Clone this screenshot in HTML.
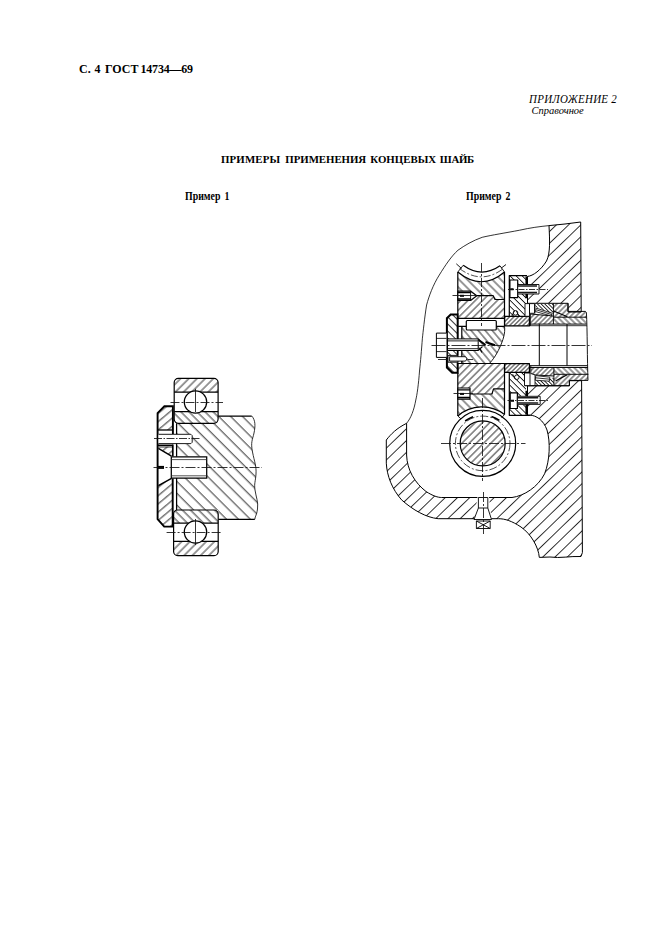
<!DOCTYPE html>
<html lang="ru"><head><meta charset="utf-8"><title>ГОСТ 14734—69</title>
<style>
html,body{margin:0;padding:0;background:#fff;}
body{width:661px;height:936px;position:relative;overflow:hidden;font-family:"Liberation Serif",serif;color:#000;}
.t{position:absolute;white-space:nowrap;line-height:1;}
#hdr{left:79.3px;top:62.4px;font-size:13.5px;font-weight:bold;transform:scaleX(.886);transform-origin:0 0;}
#hdr .a{margin-right:.95px;}#hdr .b{margin-right:1.85px;}#hdr .c{margin-right:-1px;}#hdr .d{letter-spacing:-.22px;}
#app{left:528.9px;top:93.8px;font-size:11.5px;font-style:italic;letter-spacing:.3px;transform:scaleX(.95);transform-origin:0 0;}
#ref{left:531.5px;top:105.5px;font-size:10.5px;font-style:italic;}
#ttl{left:221px;top:154px;font-size:11px;font-weight:bold;word-spacing:1.5px;transform:scaleX(.985);transform-origin:0 0;}
#ttl .a{letter-spacing:.15px;margin-right:.95px;}#ttl .b{letter-spacing:-.05px;}#ttl .c{margin-right:-.5px;}#ttl .d{letter-spacing:-.3px;}
#p1{left:184.9px;top:191px;font-size:11.5px;font-weight:bold;transform:scaleX(.856);transform-origin:0 0;word-spacing:2px;}
#p2{left:465.9px;top:191px;font-size:11.5px;font-weight:bold;transform:scaleX(.856);transform-origin:0 0;word-spacing:2px;}
svg{position:absolute;left:0;top:0;}
</style></head><body>
<div class="t" id="hdr"><span class="a">С.</span> <span class="b">4</span> <span class="c">ГОСТ</span> <span class="d">14734—69</span></div>
<div class="t" id="app">ПРИЛОЖЕНИЕ 2</div>
<div class="t" id="ref">Справочное</div>
<div class="t" id="ttl"><span class="a">ПРИМЕРЫ</span> <span class="b">ПРИМЕНЕНИЯ</span> <span class="c">КОНЦЕВЫХ</span> <span class="d">ШАЙБ</span></div>
<div class="t" id="p1">Пример 1</div>
<div class="t" id="p2">Пример 2</div>
<svg width="661" height="936" viewBox="0 0 661 936">
<!--D1--><defs>
<pattern id="hA" width="5.8" height="5.8" patternUnits="userSpaceOnUse" patternTransform="rotate(45)"><line x1="1" y1="-1" x2="1" y2="7" stroke="#000" stroke-width=".8"/></pattern>
<pattern id="hB" width="5.7" height="5.7" patternUnits="userSpaceOnUse" patternTransform="rotate(-45)"><line x1="2" y1="-1" x2="2" y2="7" stroke="#000" stroke-width=".8"/></pattern>
<pattern id="hS" width="8.4" height="8.4" patternUnits="userSpaceOnUse" patternTransform="rotate(-45)"><line x1="3" y1="-1" x2="3" y2="10" stroke="#000" stroke-width=".8"/></pattern>
<pattern id="hW" width="6.3" height="6.3" patternUnits="userSpaceOnUse" patternTransform="rotate(50)"><line x1="2.6" y1="-1" x2="2.6" y2="8" stroke="#000" stroke-width=".8"/></pattern>
</defs>
<g id="d1" fill="none" stroke="#000" stroke-width="1.25" stroke-linecap="butt">
<!-- shaft -->
<path stroke="none" fill="url(#hS)" d="M176.6 423.3H218.2V416H251.7C255.5 420 255.5 426 254 433S250.5 442 252.5 452 256.5 466 256 474 254 483 255 490 258.5 502 257.5 509 255.5 515 254.8 519.4H218.2V510H176.6V476.6H206.6V456.6H176.6ZM176.6 434.1H190.8L192.4 436V442L190.8 444.1H176.6Z" fill-rule="evenodd"/>
<path d="M176.6 423.3V457 M176.6 477V510 M218.2 416H251.7 M218.2 519.4H254.8" />
<path stroke-width=".8" d="M251.7 416C255.5 420 255.5 426 254 433S250.5 442 252.5 452 256.5 466 256 474 254 483 255 490 258.5 502 257.5 509 255.5 515 254.8 519.3"/>
<!-- upper bearing -->
<rect x="174.2" y="378.4" width="43.9" height="44.9" rx="4.2" fill="#fff" stroke-width="1.2"/>
<path stroke="none" fill="url(#hA)" d="M174.2 392.2V382.6Q174.2 378.4 178.4 378.4H213.9Q218.1 378.4 218.1 382.6V392.2Z"/>
<path stroke="none" fill="url(#hB)" d="M174.2 411.7V419.1Q174.2 423.3 178.4 423.3H213.9Q218.1 423.3 218.1 419.1V411.7Z"/>
<path d="M174.2 392.2H218.1M174.2 411.7H218.1"/>
<circle cx="195.5" cy="402" r="11.2" fill="#fff"/>
<!-- lower bearing -->
<rect x="173.6" y="510" width="44.6" height="45.6" rx="4.2" fill="#fff" stroke-width="1.2"/>
<path stroke="none" fill="url(#hB)" d="M173.6 523V514.2Q173.6 510 177.8 510H214Q218.2 510 218.2 514.2V523Z"/>
<path stroke="none" fill="url(#hA)" d="M173.6 541.3V551.4Q173.6 555.6 177.8 555.6H214Q218.2 555.6 218.2 551.4V541.3Z"/>
<path d="M173.6 523H218.2M173.6 541.3H218.2"/>
<circle cx="195.5" cy="532" r="11.2" fill="#fff"/>
<!-- washer -->
<path stroke="none" fill="url(#hW)" d="M157.6 413.2L164.4 406.2H172.9V430H157.6ZM157.6 485.5L171.3 478.4H172.7V526.6H164.2L157.6 519Z M158.6 446.8H172.7V455.9H171.3L158.6 448.6Z"/>
<path stroke="#000" stroke-width="1.9" stroke-linejoin="miter" d="M172.9 434V406.2H164.4L157.6 413.2V519.2L164.2 526.6H172.7V478.4"/>
<path stroke="#000" stroke-width="1.7" d="M172.8 444.5V456.5"/>
<path stroke-width="1.3" d="M157.6 430H173"/>
<path stroke-width=".9" fill="#fff" d="M158.5 434.3H190.9L192.2 435.6V442.3L190.9 443.6H158.5"/>
<path stroke="#000" stroke-width="1.5" d="M157.6 445.3H172.8"/>
<path stroke-width=".8" d="M158.5 447H172"/>
<path stroke="#000" stroke-width="1.5" d="M158.4 448.4L171.5 456.1 M158.4 485.6L171.5 478.4"/>
<!-- bolt hole -->
<path d="M171.3 456.8H206.7V478.1H171.3Z" fill="#fff"/>
<path stroke-width="1" stroke="#555" d="M171.8 459.6H206.2 M171.8 475.8H206.2"/>
<!-- slot mark -->
<path stroke="#000" stroke-width="3" d="M158 467.4H164"/>
<!-- centre lines -->
<g stroke-width=".85" stroke="#111">
<path stroke-dasharray="10 2 2 2" d="M153.5 467.5H262"/>
<path stroke-dasharray="8 1.5 1.5 1.5" d="M154 438.5H200"/>
<path stroke-dasharray="9 2 2 2" d="M170.5 402.5H223 M166.6 532.5H222"/>
<path d="M195.5 388.8V412 M195.5 519V545"/>
</g>
</g>
<!--/D1-->
<!--D2--><defs>
<pattern id="gH" width="8.5" height="8.5" patternUnits="userSpaceOnUse" patternTransform="rotate(46)"><line x1="4.25" y1="-1" x2="4.25" y2="9.5" stroke="#000" stroke-width="0.8"/></pattern>
<pattern id="gR" width="5.9" height="5.9" patternUnits="userSpaceOnUse" patternTransform="rotate(-45)"><line x1="2.95" y1="-1" x2="2.95" y2="6.9" stroke="#000" stroke-width="0.8"/></pattern>
<pattern id="gU" width="5.2" height="5.2" patternUnits="userSpaceOnUse" patternTransform="rotate(45)"><line x1="2.6" y1="-1" x2="2.6" y2="6.2" stroke="#000" stroke-width="0.8"/></pattern>
<pattern id="gC" width="4.3" height="4.3" patternUnits="userSpaceOnUse" patternTransform="rotate(-45)"><line x1="2.15" y1="-1" x2="2.15" y2="5.3" stroke="#000" stroke-width="0.8"/></pattern>
<pattern id="gS" width="3.1" height="3.1" patternUnits="userSpaceOnUse" patternTransform="rotate(45)"><line x1="1.55" y1="-1" x2="1.55" y2="4.1" stroke="#000" stroke-width="0.8"/></pattern>
<pattern id="gT" width="4.0" height="4.0" patternUnits="userSpaceOnUse" patternTransform="rotate(-45)"><line x1="2.0" y1="-1" x2="2.0" y2="5.0" stroke="#000" stroke-width="0.8"/></pattern>
<pattern id="gL" width="5.4" height="5.4" patternUnits="userSpaceOnUse" patternTransform="rotate(-40)"><line x1="2.7" y1="-1" x2="2.7" y2="6.4" stroke="#000" stroke-width="0.8"/></pattern>
<pattern id="gW" width="5.0" height="5.0" patternUnits="userSpaceOnUse" patternTransform="rotate(-45)"><line x1="2.5" y1="-1" x2="2.5" y2="6.0" stroke="#000" stroke-width="0.8"/></pattern>
<pattern id="gM" width="5.1" height="5.1" patternUnits="userSpaceOnUse" patternTransform="rotate(45)"><line x1="2.55" y1="-1" x2="2.55" y2="6.1" stroke="#000" stroke-width="0.8"/></pattern>
<pattern id="gB" width="2.6" height="2.6" patternUnits="userSpaceOnUse" patternTransform="rotate(-45)"><line x1="1.3" y1="-1" x2="1.3" y2="3.6" stroke="#000" stroke-width="0.8"/></pattern>
<pattern id="gS2" width="3.4" height="3.4" patternUnits="userSpaceOnUse" patternTransform="rotate(45)"><line x1="1.7" y1="-1" x2="1.7" y2="4.4" stroke="#000" stroke-width="0.8"/></pattern>
<pattern id="gN" width="3.7" height="3.7" patternUnits="userSpaceOnUse" patternTransform="rotate(45)"><line x1="1.85" y1="-1" x2="1.85" y2="4.7" stroke="#000" stroke-width="0.8"/></pattern>
</defs>
<g id="d2" fill="none" stroke="#000" stroke-width="1.2" stroke-linecap="butt" stroke-linejoin="round">
<path stroke="none" fill="url(#gH)" d="M549 225.6 L565 224 L580.7 222 L581.2 312 H568.1 V303.3 H527.5 V276.4 C533 276 541 270 546.5 261 C550.5 253 549.7 240 549 225.6Z"/>
<path stroke="none" fill="url(#gH)" d="M581.6 380.7 L582.4 552.5 L581 556.5 C570 556 560 558.5 550 557 L539.3 557.4 C538.5 547 531 534 521 527 C512 521 505 518.7 498.4 518.7 H438.2 C426 517.5 413 510 401.6 499.9 C392 489 387 476 386.3 463.2 V440 C391 434 396.6 428.3 406.6 423.3 V455 C407 470 415 483 426 491.5 C433 496 438 497.5 441.6 497.5 H512 C524 496 538 487 544.6 473.8 C550 460 550.5 442 547 430 C543.5 420 536 415.3 529.9 415.2 H527.5 V385.8 H569.3 V380.7Z"/>
<path stroke-width="1" d="M549 225.6 L565 224 L580.7 222 L581.2 312 H568.1 V303.3 H527.5 V276.4 C533 276 541 270 546.5 261 C550.5 253 549.7 240 549 225.6Z"/>
<path stroke-width="1" d="M581.6 380.7 L582.4 552.5 L581 556.5 C570 556 560 558.5 550 557 L539.3 557.4 C538.5 547 531 534 521 527 C512 521 505 518.7 498.4 518.7 H438.2 C426 517.5 413 510 401.6 499.9 C392 489 387 476 386.3 463.2 V440 C391 434 396.6 428.3 406.6 423.3 V455 C407 470 415 483 426 491.5 C433 496 438 497.5 441.6 497.5 H512 C524 496 538 487 544.6 473.8 C550 460 550.5 442 547 430 C543.5 420 536 415.3 529.9 415.2 H527.5 V385.8 H569.3 V380.7Z"/>
<path stroke-width=".8" d="M549 225.6 C540 226.5 530 227.8 519.7 230.2 C505 233 492 235 482.2 237.3 C473 240.5 464.5 245.5 458 250.2 C451.5 256 445.5 265 439.3 275 C433 285 429 296 426.6 305 C424.5 318 423 333 422.4 338.2 C421.5 350 420.5 362 419.6 370 C418.5 385 417 395 415.8 400 C414 410 411 418 406.6 423.3"/>
<path stroke="none" fill="url(#gR)" d="M457.8 272 Q481.5 291.5 504.5 272 V299.5 H495 L493.2 295.7 H457.8Z"/>
<path stroke="none" fill="url(#gU)" d="M457.8 295.7 H493.2 L495 299.5 H504.5 V318.3 H457.8Z"/>
<path stroke="none" fill="url(#gU)" d="M457.8 363.5 H504.5 V388.9 H493.5 L492 394 H457.8Z"/>
<path stroke="none" fill="url(#gR)" d="M457.8 394 H492 L493.5 388.9 H504.5 V414.5 A36.8 36.8 0 0 0 457.8 416Z"/>
<path d="M457.8 272 V314 M457.8 373 V416 M504.5 272 V326.3 M504.5 363.5 V414.5"/>
<path d="M457.8 272 Q481.5 291.5 504.5 272"/>
<path d="M463.2 265.3 Q481.5 278.6 500 265.8"/>
<path stroke-width=".7" stroke-dasharray="7 2 2 2" d="M459.6 268.6 Q481.5 285 503 268.8"/>
<path stroke-width=".9" d="M456.3 263.8 L461.5 268.5 M457.8 272 L463.2 265.3 M504.5 272 L500 265.8 M506 264.5 L501 268.3"/>
<path d="M477 295.7 H493.2 L495 299.5 H504.5 M469.5 394 H492 L493.5 388.9 H504.5"/>
<path d="M457.8 318.3 H504.5 M457.8 363.5 H504.5"/>
<path fill="#fff" d="M457.8 291.2 H470.6 L476.8 295.8 L470.6 300.4 H457.8Z"/>
<path stroke-width="1.3" d="M457.8 292.6 H470.6 M457.8 299 H470.6"/>
<path stroke-width=".9" d="M470.6 291.2 V300.4"/>
<path stroke-width="2" d="M460 295.8 H464"/>
<path fill="#fff" d="M457.8 388 H470 V399.2 H457.8Z"/>
<path stroke-width="1.3" d="M457.8 389.8 H470 M457.8 397.5 H470"/>
<path stroke-width="2" d="M460 393.9 H464"/>
<path stroke="none" fill="url(#gL)" d="M461.8 326.3 H466.3 V330 H496.3 V326.3 H504.5 C505.5 333 503 340.5 499.5 348 S493 359.5 489.5 363.4 H461.8 V350.8 H477.7 V339 H461.8Z"/>
<path stroke-width=".9" d="M504.5 326.3 C505.5 333 503 340.5 499.5 348 S493 359.5 489.5 363.4"/>
<path d="M461.8 326.3 V339 M461.8 350.8 V363.4 M458.2 326.3 H466.3 M496.3 326.3 H504.5"/>
<rect x="466.3" y="320.5" width="30" height="9.5" rx="1" fill="#fff"/>
<path stroke-width="2" d="M477.8 339.3 L485.5 345 M485.5 342 L495 345.2"/>
<path stroke-width="1.2" d="M478 350.6 L482.5 346.5 M479.5 348 L482 352.5"/>
<path stroke="none" fill="url(#gW)" d="M446.9 318.2 L450.7 314.5 H457.7 V372.8 H452.2 L446.9 367.5Z"/>
<path fill="#fff" stroke-width="1" d="M447.5 338.9 H478.2 V350.5 H447.5Z"/>
<path stroke-width="1" stroke="#222" d="M448 340.9 H478 M448 348.7 H478"/>
<path fill="#fff" stroke-width=".9" d="M448 355.4 H458 V362.2 H448Z"/>
<path fill="#fff" stroke-width=".9" d="M449.6 356.7 H465.5 L467 358.9 L465.5 361.1 H449.6Z"/>
<path stroke="#000" stroke-width="2" stroke-linejoin="miter" d="M457.7 339 V314.5 H450.7 L446.9 318.2 V367.5 L452.2 372.8 H457.7 V362.5"/>
<path stroke="#000" stroke-width="1.8" d="M457.7 350.5 V355.5"/>
<path fill="#fff" stroke-width="1" d="M446.5 333.1 H436.4 V357.4 H446.5"/>
<path stroke-width=".8" d="M436.4 338.4 H446.5 M436.4 351.6 H446.5"/>
<path stroke="none" fill="url(#gS)" d="M504.6 316.3 H529.4 V325.8 H504.6Z"/>
<path d="M504.6 316.3 H529.4 V325.8 H504.6Z"/>
<path stroke="none" fill="url(#gS2)" d="M530.3 314 L553.4 316 V324.1 H530.3Z"/>
<path stroke="none" fill="url(#gT)" d="M553.4 317.2 H586.4 V324.1 H553.4Z"/>
<path stroke="none" fill="url(#gN)" d="M553.4 303.3 H567.9 V311.4 H585.4 L586.4 312.5 V317.2 H553.4Z"/>
<path stroke="none" fill="url(#gB)" d="M535 304 H553.4 V314.5 L536 307Z"/>
<path stroke-width=".95" d="M529.4 324.1 H586.6 M553.4 303.3 V324.1 M567.9 303.3 V311.4 H585.4 L586.4 312.5 M553.4 317.2 H586.4 M530.3 314 V325.8 M530.3 314 L553.4 316"/>
<path stroke-width="1.2" d="M553.6 311 L567.4 316.8"/>
<path fill="#fff" stroke-width=".8" d="M536.3 308.2 L552.2 313.2 L551.4 316 L535.6 311.6Z"/>
<path stroke-width=".8" d="M535 304 V313.5 M536.6 309.9 L551.8 314.6"/>
<path fill="#fff" stroke-width=".9" d="M525 303.6 H529.5 V316.3 H525Z M529.5 303.6 H534.5 V313.3 H529.5Z"/>
<path stroke="none" fill="url(#gS)" d="M504.6 363.6 H529.4 V372.4 H504.6Z"/>
<path d="M504.6 363.6 H529.4 V372.4 H504.6Z"/>
<path stroke="none" fill="url(#gS2)" d="M530.8 367.5 H553.9 V376 L535.5 375 L530.8 373.5Z"/>
<path stroke="none" fill="url(#gT)" d="M553.9 367.5 H587.6 V374.3 H553.9Z"/>
<path stroke="none" fill="url(#gN)" d="M553.9 374.3 H588 V380.4 H569.5 V385.7 H553.9Z"/>
<path stroke="none" fill="url(#gB)" d="M535 380.5 L553.9 377.5 V385.7 H535Z"/>
<path stroke-width=".95" d="M529.4 367.5 H587.8 M553.9 367.5 V385.7 M569.5 385.7 V380.4 H588 M553.9 374.3 H588.4 M530.8 365.7 V373.5 L535.5 375 L553.9 376 M524.5 385.7 H569.5"/>
<path stroke-width="1.2" d="M555.5 381 L567.2 374.8"/>
<path fill="#fff" stroke-width=".8" d="M535.8 375.6 L549.8 377.2 L549.4 381.2 L535.2 380.2Z"/>
<path stroke-width=".8" d="M535.5 377.8 L549.6 379.2 M535 375 V385.7"/>
<path fill="#fff" stroke-width=".9" d="M524.5 373 H530 V385.6 H524.5Z"/>
<path stroke-width="1" d="M539.3 324.1 V365.7 M567 324.1 V365.7 M529.4 365.7 H587.5"/>
<path stroke-width=".9" d="M586.4 312.5 C587.4 330 587.2 360 588 380.4"/>
<path stroke-width=".8" d="M529.4 325.7 H586.8"/>
<path stroke="none" fill="url(#gC)" fill-rule="evenodd" d="M509.3 275.6 H526 V303.6 H525 V316.3 H509.3Z M509.9 280 H517.7 V297.7 H509.9Z M517.7 284.5 H526 V294 H517.7Z"/>
<path d="M509.3 316.3 V275.6 H527 M509.9 280 H517.7 V297.7 H509.9Z"/>
<path stroke="none" fill="url(#gC)" fill-rule="evenodd" d="M509.3 373 H524.5 V385.6 H526 V415.3 H509.3Z M510.2 392.9 H517.4 V408.5 H510.2Z M517.4 396.3 H526 V404.4 H517.4Z"/>
<path d="M509.3 373 V415.3 H529.9 M510.2 392.9 H517.4 V408.5 H510.2Z"/>
<path fill="#fff" stroke-width=".9" d="M517.7 284.5 H539 V294 H517.7Z"/>
<path stroke-width="1.5" stroke="#1a1a1a" d="M517.7 285.9 H537 M517.7 292.6 H537"/>
<path fill="#fff" stroke-width=".9" d="M517.4 396.3 H540.2 V404.4 H517.4Z"/>
<path stroke-width="1.5" stroke="#1a1a1a" d="M517.4 397.7 H538.2 M517.4 403.0 H538.2"/>
<path stroke-width="2" d="M510.3 289.3 H513.6 M510.8 400.8 H514"/>
<path stroke-width="2.3" d="M526.6 276.4 V284.5 M526.6 294 V298.2 M526.6 390.8 V396.3 M526.6 404.4 V414.8"/>
<circle cx="515.5" cy="312.9" r="2.3" fill="#fff" stroke-width=".9"/><path stroke-width=".8" d="M511.8 316 L514.6 310.6 M518.8 316 L516.3 310.8"/>
<circle cx="516.8" cy="377.2" r="2.3" fill="#fff" stroke-width=".9"/><path stroke-width=".8" d="M512.5 374 L515.5 379.2"/>
<circle cx="482.7" cy="443.4" r="33" fill="#fff"/>
<circle cx="482.7" cy="443.4" r="22.5" fill="url(#gM)"/>
<circle cx="482.7" cy="443.4" r="27.3" stroke-width=".7" stroke-dasharray="8 2 2 2"/>
<path d="M457.8 416 A36.8 36.8 0 0 1 504.5 414.5"/>
<path stroke-width=".9" d="M457.8 416 L460.9 418.8 M504.5 414.5 L501.6 417.8"/>
<path stroke-width="1.6" d="M465.2 421.0 A28.4 28.4 0 0 1 473.0 416.7 M491.5 416.4 A28.4 28.4 0 0 1 499.4 420.4"/>
<path fill="#fff" stroke="none" d="M477.5 497 H489 L491.5 519.2 H474Z"/>
<path stroke-width=".9" d="M478.4 497.5 V508 L474 519.5 M487.8 497.5 V508 L491.5 519.5 M478.4 508 H487.8 M474 519.5 H491.5 M478.4 497.5 H487.8"/>
<path fill="#fff" stroke-width=".9" d="M476.4 521 H490.2 V528.5 H476.4Z M476.4 521 L490.2 528.5 M490.2 521 L476.4 528.5"/>
<g stroke-width=".85" stroke="#111">
<path stroke-dasharray="14 2 2 2" d="M431.5 345.5 H592"/>
<path stroke-dasharray="9 2 2 2" d="M481.5 263 V326"/>
<path stroke-dasharray="10 2 2 2" d="M441 443.5 H525.5"/>
<path stroke-dasharray="10 2 2 2" d="M482.5 398 V481 M483.5 492 V535"/>
<path d="M452.5 295.5 H477 M453.5 393.5 H473 M438 359.5 H448 M467.5 359.5 H473"/>
<path stroke-dasharray="6 1.5 1.5 1.5" d="M508 289.5 H548 M507.5 400.5 H548"/>
</g>
</g>
<!--/D2-->
<!--DRAWINGS-->
</svg>
</body></html>
